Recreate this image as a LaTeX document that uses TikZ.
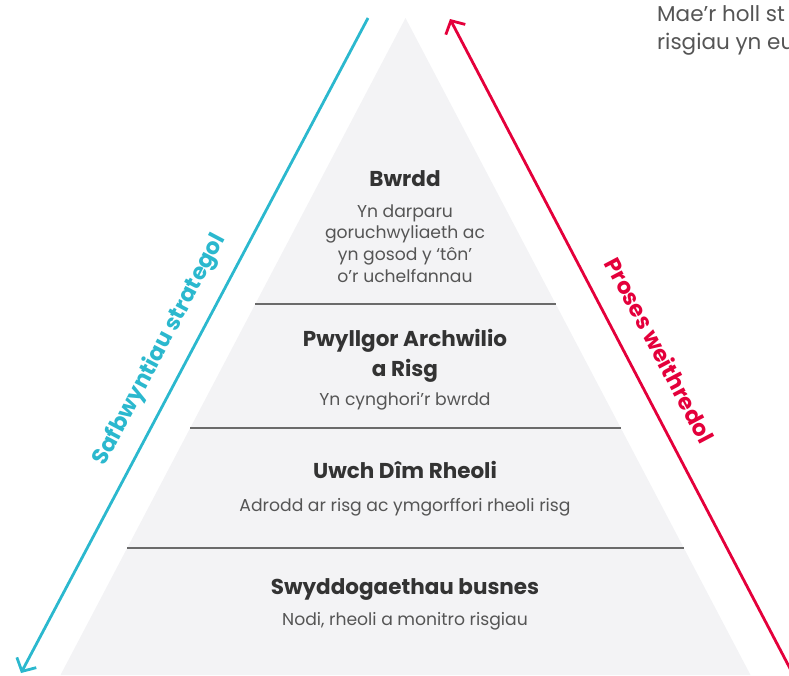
\documentclass[tikz,border=0pt]{standalone}
\usepackage{fontspec}
\setmainfont{Poppins}
\usetikzlibrary{arrows.meta}
\definecolor{tri}{HTML}{F3F3F5}
\definecolor{divc}{HTML}{6A6A6A}
\definecolor{bluec}{HTML}{2BB8CE}
\definecolor{redc}{HTML}{E4003B}
\definecolor{titlec}{HTML}{333333}
\definecolor{descc}{HTML}{555555}
\tikzset{
  title/.style={font=\fontsize{21.5}{29.5}\selectfont\bfseries, text=titlec, align=center, inner sep=0pt, anchor=base},
  desc/.style={font=\fontsize{17.2}{21.6}\selectfont, text=descc, align=center, inner sep=0pt, anchor=base},
  divider/.style={draw=divc, line width=1.1pt},
  sidearrow/.style={line width=2.8pt, -{Straight Barb[length=10pt,width=22pt,line width=2.8pt]}},
  sidelabel/.style={font=\fontsize{22.5}{26}\selectfont\bfseries, inner sep=0pt}
}
\begin{document}
\begin{tikzpicture}[x=1pt,y=-1pt]
\useasboundingbox (0,0) rectangle (789,675);
% pyramid
\coordinate (apex) at (405.5,18);
\coordinate (bl) at (60.5,675);
\coordinate (br) at (750.5,675);
\fill[tri] (apex) -- (bl) -- (br) -- cycle;
\draw[divider] (255,304) -- (556,304);
\draw[divider] (190,428) -- (621,428);
\draw[divider] (127,548) -- (684,548);
% arrows
\coordinate (b1) at (368,18);
\coordinate (b2) at (21,673);
\draw[sidearrow, bluec] (b1) -- (b2);
\coordinate (r1) at (795,678);
\coordinate (r2) at (450,19);
\draw[sidearrow, redc] (r1) -- (r2);
\node[sidelabel, text=bluec, rotate=62.1] (lblue) at (160,350) {Safbwyntiau strategol};
\node[sidelabel, text=redc, rotate=-62.1] (lred) at (660,350) {Proses weithredol};
% texts
\node[title] (t1) at (405,186) {Bwrdd};
\node[desc] (d1) at (405,282) {Yn darparu\\goruchwyliaeth ac\\yn gosod y ‘tôn’\\o’r uchelfannau};
\node[title] (t2) at (405,376) {Pwyllgor Archwilio\\a Risg};
\node[desc] (d2) at (405,405) {Yn cynghori'r bwrdd};
\node[title] (t3) at (405,478) {Uwch Dîm Rheoli};
\node[desc] (d3) at (405,511) {Adrodd ar risg ac ymgorffori rheoli risg};
\node[title] (t4) at (405,594) {Swyddogaethau busnes};
\node[desc] (d4) at (405,625) {Nodi, rheoli a monitro risgiau};
\node[desc, font=\fontsize{21.5}{28}\selectfont, anchor=base west, align=left] (top) at (657,49) {Mae'r holl st\\risgiau yn eu};
\end{tikzpicture}
\end{document}
